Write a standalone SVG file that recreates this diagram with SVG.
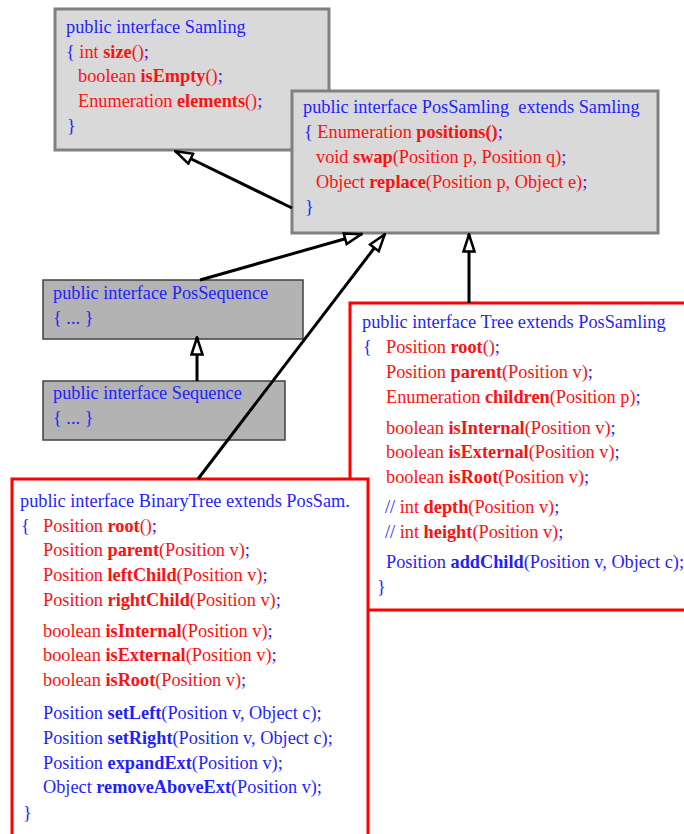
<svg xmlns="http://www.w3.org/2000/svg" width="684" height="834" viewBox="0 0 684 834">
  <style>
    text { font-family: "Liberation Serif", "Times New Roman", serif; font-size: 18.3px; }
    .b { fill: #1f1fff; }
    .r { fill: #ff1010; }
    .k { font-weight: bold; }
    .gbox { fill: #d9d9d9; stroke: #808080; stroke-width: 3; }
    .dbox { fill: #b3b3b3; stroke: #404040; stroke-width: 1.5; }
    .rbox { fill: #ffffff; stroke: #ff0000; stroke-width: 3; }
    .link { fill: none; stroke: #000000; stroke-width: 3; marker-end: url(#hollow); }
  </style>
  <defs>
    <marker id="hollow" viewBox="0 0 20 14" markerWidth="20" markerHeight="14" refX="19" refY="7" orient="auto" markerUnits="userSpaceOnUse">
      <path d="M1.5,1.5 L18.5,7 L1.5,12.5 Z" fill="#ffffff" stroke="#000000" stroke-width="2.5" stroke-linejoin="miter"/>
    </marker>
  </defs>

  <g id="samling">
    <rect class="gbox" x="55" y="9" width="274" height="141"/>
    <text x="66" y="33" class="b">public interface Samling</text>
    <text x="66" y="58"><tspan class="b">{ </tspan><tspan class="r">int </tspan><tspan class="r k">size</tspan><tspan class="r">()</tspan><tspan class="b">;</tspan></text>
    <text x="78" y="82"><tspan class="r">boolean </tspan><tspan class="r k">isEmpty</tspan><tspan class="r">()</tspan><tspan class="b">;</tspan></text>
    <text x="78" y="107"><tspan class="r">Enumeration </tspan><tspan class="r k">elements</tspan><tspan class="r">()</tspan><tspan class="b">;</tspan></text>
    <text x="67" y="132" class="b">}</text>
  </g>

  <g id="possamling">
    <rect class="gbox" x="292" y="91" width="366" height="142"/>
    <text x="303" y="113" class="b" xml:space="preserve">public interface PosSamling  extends Samling</text>
    <text x="304" y="138"><tspan class="b">{ </tspan><tspan class="r">Enumeration </tspan><tspan class="r k">positions()</tspan><tspan class="b">;</tspan></text>
    <text x="316" y="163"><tspan class="r">void </tspan><tspan class="r k">swap</tspan><tspan class="r">(Position p, Position q)</tspan><tspan class="b">;</tspan></text>
    <text x="316" y="188"><tspan class="r">Object </tspan><tspan class="r k">replace</tspan><tspan class="r">(Position p, Object e)</tspan><tspan class="b">;</tspan></text>
    <text x="305" y="213" class="b">}</text>
  </g>

  <g id="possequence">
    <rect class="dbox" x="43" y="280" width="260" height="59"/>
    <text x="53" y="299" class="b">public interface PosSequence</text>
    <text x="53" y="324" class="b">{ ... }</text>
  </g>

  <g id="sequence">
    <rect class="dbox" x="43" y="381" width="242" height="59"/>
    <text x="53" y="399" class="b">public interface Sequence</text>
    <text x="53" y="424" class="b">{ ... }</text>
  </g>

  <g id="tree">
    <rect class="rbox" x="350" y="303" width="350" height="307"/>
    <text x="362" y="328" class="b">public interface Tree extends PosSamling</text>
    <text x="363" y="353" class="b">{</text>
    <text x="386" y="353"><tspan class="r">Position </tspan><tspan class="r k">root</tspan><tspan class="r">()</tspan><tspan class="b">;</tspan></text>
    <text x="386" y="378"><tspan class="r">Position </tspan><tspan class="r k">parent</tspan><tspan class="r">(Position v)</tspan><tspan class="b">;</tspan></text>
    <text x="386" y="403"><tspan class="r">Enumeration </tspan><tspan class="r k">children</tspan><tspan class="r">(Position p)</tspan><tspan class="b">;</tspan></text>
    <text x="386" y="434"><tspan class="r">boolean </tspan><tspan class="r k">isInternal</tspan><tspan class="r">(Position v)</tspan><tspan class="b">;</tspan></text>
    <text x="386" y="458"><tspan class="r">boolean </tspan><tspan class="r k">isExternal</tspan><tspan class="r">(Position v)</tspan><tspan class="b">;</tspan></text>
    <text x="386" y="483"><tspan class="r">boolean </tspan><tspan class="r k">isRoot</tspan><tspan class="r">(Position v)</tspan><tspan class="b">;</tspan></text>
    <text x="385" y="513"><tspan class="b">// </tspan><tspan class="r">int </tspan><tspan class="r k">depth</tspan><tspan class="r">(Position v)</tspan><tspan class="b">;</tspan></text>
    <text x="385" y="538"><tspan class="b">// </tspan><tspan class="r">int </tspan><tspan class="r k">height</tspan><tspan class="r">(Position v)</tspan><tspan class="b">;</tspan></text>
    <text x="386" y="568" class="b">Position <tspan class="k">addChild</tspan>(Position v, Object c);</text>
    <text x="377" y="593" class="b">}</text>
  </g>

  <g id="binarytree">
    <rect class="rbox" x="12" y="479" width="356" height="370"/>
    <text x="20" y="507" class="b">public interface BinaryTree extends PosSam.</text>
    <text x="21" y="532" class="b">{</text>
    <text x="43" y="532"><tspan class="r">Position </tspan><tspan class="r k">root</tspan><tspan class="r">()</tspan><tspan class="b">;</tspan></text>
    <text x="43" y="556"><tspan class="r">Position </tspan><tspan class="r k">parent</tspan><tspan class="r">(Position v)</tspan><tspan class="b">;</tspan></text>
    <text x="43" y="581"><tspan class="r">Position </tspan><tspan class="r k">leftChild</tspan><tspan class="r">(Position v)</tspan><tspan class="b">;</tspan></text>
    <text x="43" y="606"><tspan class="r">Position </tspan><tspan class="r k">rightChild</tspan><tspan class="r">(Position v)</tspan><tspan class="b">;</tspan></text>
    <text x="43" y="637"><tspan class="r">boolean </tspan><tspan class="r k">isInternal</tspan><tspan class="r">(Position v)</tspan><tspan class="b">;</tspan></text>
    <text x="43" y="661"><tspan class="r">boolean </tspan><tspan class="r k">isExternal</tspan><tspan class="r">(Position v)</tspan><tspan class="b">;</tspan></text>
    <text x="43" y="686"><tspan class="r">boolean </tspan><tspan class="r k">isRoot</tspan><tspan class="r">(Position v)</tspan><tspan class="b">;</tspan></text>
    <text x="43" y="719" class="b">Position <tspan class="k">setLeft</tspan>(Position v, Object c);</text>
    <text x="43" y="744" class="b">Position <tspan class="k">setRight</tspan>(Position v, Object c);</text>
    <text x="43" y="769" class="b">Position <tspan class="k">expandExt</tspan>(Position v);</text>
    <text x="43" y="793" class="b">Object <tspan class="k">removeAboveExt</tspan>(Position v);</text>
    <text x="23" y="819" class="b">}</text>
  </g>

  <g id="connectors">
    <path class="link" d="M292,208 L175,151"/>
    <path class="link" d="M200,280 L362,234"/>
    <path class="link" d="M198,479 L385,234"/>
    <path class="link" d="M197,381 L197,337"/>
    <path class="link" d="M469,303 L469,234"/>
  </g>
</svg>
